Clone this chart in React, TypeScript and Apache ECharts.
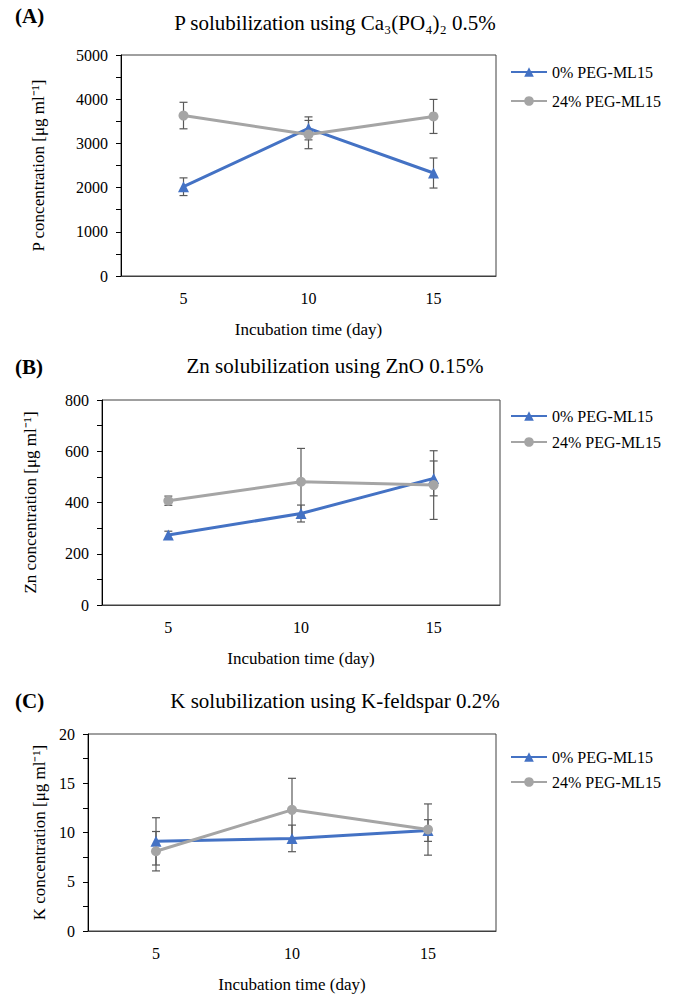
import React, { useEffect, useRef } from "react";
import * as echarts from "echarts";

const days = ["5", "10", "15"];
const seriesNames = ["0% PEG-ML15", "24% PEG-ML15"];

// (A) P solubilization
const pBlue = [2020, 3340, 2330];
const pBlueErr = [200, 260, 340];
const pGray = [3630, 3200, 3610];
const pGrayErr = [300, 320, 385];

// (B) Zn solubilization
const znBlue = [273, 357, 494];
const znBlueErr = [15, 33, 68];
const znGray = [407, 481, 468];
const znGrayErr = [18, 130, 134];

// (C) K solubilization
const kBlue = [9.1, 9.4, 10.2];
const kBlueErr = [2.4, 1.35, 1.1];
const kGray = [8.1, 12.3, 10.3];
const kGrayErr = [2.0, 3.2, 2.6];

const panelLetters = ["(A)", "(B)", "(C)"];
const panelTitles = [
  "P solubilization using Ca₃(PO₄)₂ 0.5%",
  "Zn solubilization using ZnO 0.15%",
  "K solubilization using K-feldspar 0.2%",
];
const yNames = [
  "P concentration [μg ml⁻¹]",
  "Zn concentration [μg ml⁻¹]",
  "K concentration [μg ml⁻¹]",
];
const yMax = [5000, 800, 20];
const yInterval = [1000, 200, 5];
const xName = "Incubation time (day)";

const FONT = "Liberation Serif";
const BLUE = "#4472C4";
const GRAY = "#A5A5A5";
const ERR = "#595959";

export default function App() {
  const ref = useRef<HTMLDivElement>(null);

  useEffect(() => {
    if (!ref.current) return;
    const chart = echarts.init(ref.current, null, { renderer: "svg" });

    const grids = [
      { left: 121, top: 55, width: 375, height: 221 },
      { left: 102, top: 400, width: 398, height: 205 },
      { left: 88, top: 734, width: 408, height: 200 },
    ];
    const yNameGaps = [74, 63, 40];
    const titleY = [24, 367, 702];
    const letterY = [17, 368, 702];
    const legendTops = [64, 408, 749];
    const legendGaps = [13, 10, 9];

    const data = [
      [pBlue, pBlueErr, pGray, pGrayErr],
      [znBlue, znBlueErr, znGray, znGrayErr],
      [kBlue, kBlueErr, kGray, kGrayErr],
    ];

    const errorRender = (params: any, api: any) => {
      const x = api.value(0);
      const lo = api.coord([x, api.value(1)]);
      const hi = api.coord([x, api.value(2)]);
      const cap = 4;
      const style = { stroke: ERR, lineWidth: 1.2 };
      return {
        type: "group",
        children: [
          { type: "line", shape: { x1: lo[0], y1: lo[1], x2: hi[0], y2: hi[1] }, style },
          { type: "line", shape: { x1: lo[0] - cap, y1: lo[1], x2: lo[0] + cap, y2: lo[1] }, style },
          { type: "line", shape: { x1: hi[0] - cap, y1: hi[1], x2: hi[0] + cap, y2: hi[1] }, style },
        ],
      };
    };

    const series: any[] = [];
    data.forEach((d, gi) => {
      const [b, be, g, ge] = d;
      series.push({
        type: "custom",
        xAxisIndex: gi,
        yAxisIndex: gi,
        renderItem: errorRender,
        encode: { x: 0, y: [1, 2] },
        data: b.map((v, i) => [i, v - be[i], v + be[i]]),
        z: 1,
        silent: true,
      });
      series.push({
        type: "custom",
        xAxisIndex: gi,
        yAxisIndex: gi,
        renderItem: errorRender,
        encode: { x: 0, y: [1, 2] },
        data: g.map((v, i) => [i, v - ge[i], v + ge[i]]),
        z: 1,
        silent: true,
      });
      series.push({
        name: seriesNames[0],
        type: "line",
        xAxisIndex: gi,
        yAxisIndex: gi,
        data: b,
        symbol: "triangle",
        symbolSize: 11,
        color: BLUE,
        lineStyle: { width: 3, color: BLUE },
        itemStyle: { color: BLUE },
        z: 3,
      });
      series.push({
        name: seriesNames[1],
        type: "line",
        xAxisIndex: gi,
        yAxisIndex: gi,
        data: g,
        symbol: "circle",
        symbolSize: 10,
        color: GRAY,
        lineStyle: { width: 3, color: GRAY },
        itemStyle: { color: GRAY },
        z: 4,
      });
    });

    const titles: any[] = [];
    for (let i = 0; i < 3; i++) {
      titles.push({
        text: panelLetters[i],
        left: 15,
        top: letterY[i] - 12,
        padding: 0,
        textStyle: { fontFamily: FONT, fontWeight: "bold", fontSize: 21, color: "#000" },
      });
      titles.push({
        text: panelTitles[i],
        left: 335,
        textAlign: "center",
        top: titleY[i] - 12,
        padding: 0,
        textStyle: { fontFamily: FONT, fontWeight: "normal", fontSize: 21, color: "#000" },
      });
    }

    const option: any = {
      animation: false,
      backgroundColor: "#fff",
      textStyle: { fontFamily: FONT },
      title: titles,
      grid: grids.map((g) => ({ ...g, show: true, borderColor: "#404040", borderWidth: 1, backgroundColor: "transparent" })),
      legend: legendTops.map((t, li) => ({
        data: seriesNames,
        orient: "vertical",
        left: 510,
        top: t,
        padding: 0,
        itemWidth: 36,
        itemHeight: 12,
        itemGap: legendGaps[li],
        textStyle: { fontFamily: FONT, fontSize: 16, color: "#000" },
      })),
      xAxis: grids.map((_, gi) => ({
        gridIndex: gi,
        type: "category",
        data: days,
        boundaryGap: true,
        axisTick: { show: false },
        axisLine: { show: true, lineStyle: { color: "#404040", width: 1 } },
        axisLabel: { fontFamily: FONT, fontSize: 16, color: "#000", margin: 14 },
        splitLine: { show: false },
        name: xName,
        nameLocation: "middle",
        nameGap: 45,
        nameTextStyle: { fontFamily: FONT, fontSize: 17, color: "#000" },
      })),
      yAxis: grids.map((_, gi) => ({
        gridIndex: gi,
        type: "value",
        min: 0,
        max: yMax[gi],
        interval: yInterval[gi],
        axisLine: { show: true, lineStyle: { color: "#000", width: 1 } },
        axisTick: { show: true, length: 5, lineStyle: { color: "#000" } },
        minorTick: { show: true, splitNumber: 2, length: 5, lineStyle: { color: "#000" } },
        splitLine: { show: false },
        minorSplitLine: { show: false },
        axisLabel: {
          fontFamily: FONT,
          fontSize: 16,
          color: "#000",
          margin: 13,
          formatter: (v: number) => String(v),
        },
        name: yNames[gi],
        nameLocation: "middle",
        nameGap: yNameGaps[gi],
        nameTextStyle: { fontFamily: FONT, fontSize: 17, color: "#000" },
      })),
      series,
    };

    chart.setOption(option);
    return () => chart.dispose();
  }, []);

  return (
    <div
      ref={ref}
      style={{ position: "fixed", left: 0, top: 0, width: 675, height: 994, background: "#fff" }}
    />
  );
}
